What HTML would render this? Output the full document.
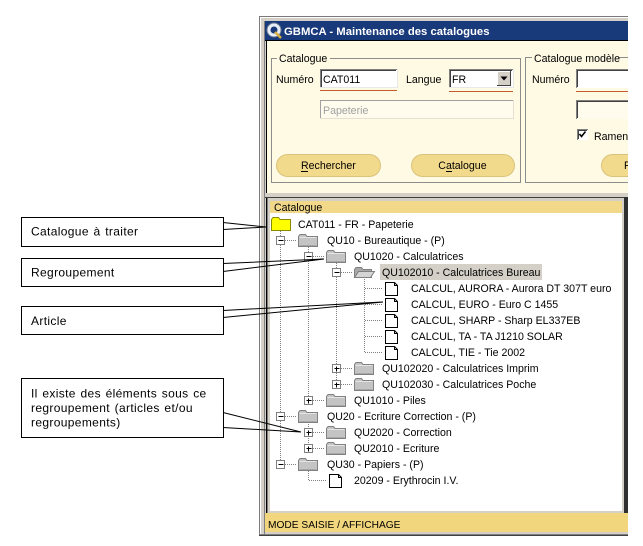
<!DOCTYPE html>
<html><head><meta charset="utf-8">
<style>
html,body{margin:0;padding:0;background:#fff;}
svg{display:block;}
text{font-family:"Liberation Sans",Arial,sans-serif;}
</style></head><body>
<svg width="643" height="546" viewBox="0 0 643 546" xmlns="http://www.w3.org/2000/svg">
<defs>
<clipPath id="win"><rect x="259" y="16" width="369" height="520"/></clipPath>
<g id="fc">
 <path d="M0.5,2.5 V12.5 H19.5 V2.5 H9 L7.5,0.5 H2 Z" fill="#c4c4c4" stroke="#808080"/>
 <path d="M1.5,3.5 H18.5" stroke="#e6e6e6"/>
 <path d="M1.5,11.5 H18.5" stroke="#a8a8a8"/>
</g>
<g id="fo">
 <path d="M0.5,3.5 V11.5 H17.5 V3.5 H9 L7.5,1.5 H2 Z" fill="#a8a8a8" stroke="#808080"/>
 <path d="M0.5,11.5 L4.5,5.5 H20.5 L16.5,11.5 Z" fill="#d4d4d4" stroke="#808080"/>
</g>
<g id="doc">
 <path d="M0.5,0.5 H9.5 L12.5,3.5 V13.5 H0.5 Z" fill="#fff" stroke="#000"/>
 <path d="M9.5,0.5 V3.5 H12.5" fill="none" stroke="#000"/>
</g>
<g id="minus">
 <rect x="-3.5" y="-3.5" width="8" height="8" fill="#fff" stroke="#808080"/>
 <path d="M-1.5,0.5 H3.5" stroke="#000"/>
</g>
<g id="plus">
 <rect x="-3.5" y="-3.5" width="8" height="8" fill="#fff" stroke="#808080"/>
 <path d="M-1.5,0.5 H3.5 M0.5,-1.5 V3.5" stroke="#000"/>
</g>
</defs>
<rect width="643" height="546" fill="#fff"/>

<g clip-path="url(#win)">
 <!-- window frame -->
 <rect x="259" y="16" width="369" height="520" fill="#d4d0c8"/>
 <path d="M259.5,536 V16.5 H628" fill="none" stroke="#7a7a7a"/>
 <path d="M260.5,535 V17.5 H628" fill="none" stroke="#ffffff"/>
 <path d="M264.5,535 V21" fill="none" stroke="#808080"/>
 <path d="M259,535.5 H628" stroke="#404040"/>
 <path d="M260,534.5 H628" stroke="#808080"/>

 <!-- title bar -->
 <rect x="265" y="21" width="363" height="19" fill="#18397a"/>
 <circle cx="274" cy="30" r="7" fill="#e8eef8" stroke="#6a7a90"/>
 <circle cx="274" cy="30" r="3.5" fill="#18397a"/>
 <path d="M275,32 L281,38" stroke="#d8b040" stroke-width="2.5"/>
 <text x="284" y="35" font-size="11.3" font-weight="bold" fill="#fff">GBMCA - Maintenance des catalogues</text>
 <rect x="265" y="40" width="363" height="1" fill="#000"/>

 <!-- cream panel -->
 <rect x="266" y="41" width="362" height="152" fill="#fffae4"/>
 <rect x="266" y="41" width="1" height="152" fill="#000"/>

 <!-- group box 1 -->
 <rect x="271.5" y="58.5" width="249" height="124" fill="none" stroke="#8c8c8c"/>
 <rect x="277" y="52" width="53" height="12" fill="#fffae4"/>
 <text x="279" y="62" font-size="10.6" fill="#000">Catalogue</text>
 <text x="276" y="83" font-size="10.6" fill="#000">Numéro</text>
 <rect x="320" y="69" width="77" height="19" fill="#fff"/>
 <path d="M320.5,88 V69.5 H397" fill="none" stroke="#808080"/>
 <path d="M321.5,87 V70.5 H396" fill="none" stroke="#404040"/>
 <path d="M320,87.5 H397.5 V69" fill="none" stroke="#e8e8e8"/>
 <text x="323" y="83" font-size="10.6" fill="#000">CAT011</text>
 <path d="M320,90.5 H397" stroke="#c85a30"/>

 <text x="406" y="83" font-size="10.6" fill="#000">Langue</text>
 <rect x="449" y="69" width="64" height="19" fill="#fff"/>
 <path d="M449.5,88 V69.5 H513" fill="none" stroke="#808080"/>
 <path d="M450.5,87 V70.5 H512" fill="none" stroke="#404040"/>
 <path d="M449,87.5 H513.5 V69" fill="none" stroke="#e8e8e8"/>
 <text x="452" y="83" font-size="10.6" fill="#000">FR</text>
 <rect x="497" y="71" width="14" height="15" fill="#d4d0c8"/>
 <path d="M497.5,86 V71.5 H511" fill="none" stroke="#fff"/>
 <path d="M497,85.5 H510.5 V71" fill="none" stroke="#404040"/>
 <path d="M500.5,76.5 H507.5 L504,80.5 Z" fill="#000"/>
 <path d="M449,91.5 H513" stroke="#c85a30"/>

 <rect x="320" y="100" width="194" height="19" fill="#fffcee"/>
 <path d="M320.5,119 V100.5 H514" fill="none" stroke="#a0a0a0"/>
 <path d="M320,118.5 H513.5 V100" fill="none" stroke="#e4e0d4"/>
 <text x="323" y="114" font-size="10.6" fill="#a0a0a0">Papeterie</text>

 <rect x="276.5" y="154.5" width="104" height="22" rx="11" fill="#f2da8c" stroke="#d9c37c"/>
 <text x="301" y="169" font-size="10.6" fill="#000">Rechercher</text>
 <path d="M301,171.5 H308" stroke="#000"/>
 <rect x="411.5" y="154.5" width="103" height="22" rx="11" fill="#f2da8c" stroke="#d9c37c"/>
 <text x="438.3" y="169" font-size="10.6" fill="#000">Catalogue</text>
 <path d="M446,171.5 H452" stroke="#000"/>

 <!-- group box 2 -->
 <rect x="525.5" y="57.5" width="200" height="125" fill="none" stroke="#8c8c8c"/>
 <rect x="532" y="52" width="86" height="12" fill="#fffae4"/>
 <text x="534" y="62" font-size="10.6" fill="#000">Catalogue modèle</text>
 <text x="532" y="83" font-size="10.6" fill="#000">Numéro</text>
 <rect x="576" y="69" width="60" height="19" fill="#fff"/>
 <path d="M576.5,88 V69.5 H640" fill="none" stroke="#808080"/>
 <path d="M577.5,87 V70.5 H640" fill="none" stroke="#404040"/>
 <path d="M576,91.5 H640" stroke="#c85a30"/>
 <rect x="576" y="100" width="60" height="19" fill="#fffcee"/>
 <path d="M576.5,119 V100.5 H640" fill="none" stroke="#808080"/>
 <path d="M577.5,118 V101.5 H640" fill="none" stroke="#404040"/>
 <rect x="577" y="129" width="11" height="11" fill="#fff"/>
 <path d="M577.5,140 V129.5 H588" fill="none" stroke="#808080"/>
 <path d="M578.5,139 V130.5 H587" fill="none" stroke="#404040"/>
 <path d="M579.5,134 L581.5,136.5 L585.5,131.5" fill="none" stroke="#000" stroke-width="1.6"/>
 <text x="594" y="140" font-size="10.6" fill="#000">Ramener</text>
 <rect x="601.5" y="154.5" width="104" height="22" rx="11" fill="#f2da8c" stroke="#d9c37c"/>
 <text x="624" y="169" font-size="10.6" fill="#000">Rechercher</text>

 <!-- tree panel -->
 <rect x="265" y="197" width="363" height="1" fill="#404040"/>
 <rect x="266" y="198" width="1" height="315" fill="#000"/>
 <rect x="267" y="198" width="1" height="315" fill="#808080"/>
 <rect x="624" y="197" width="4" height="316" fill="#303030"/>
 <rect x="270" y="201" width="352" height="310" fill="#fff"/>
 <rect x="270" y="201" width="352" height="12" fill="#f2d98a"/>
 <text x="274" y="211" font-size="10.6" fill="#000">Catalogue</text>

 <!-- status bar -->
 <rect x="265" y="513" width="363" height="19" fill="#f2d67e"/>
 <text x="268" y="528" font-size="10.2" fill="#000">MODE SAISIE / AFFICHAGE</text>

 <!-- tree dotted lines -->
 <g stroke="#808080" stroke-dasharray="1,1" fill="none">
  <path d="M280.5,231 V460"/>
  <path d="M308.5,245 V400 M308.5,420 V448 M308.5,469 V480.5"/>
  <path d="M336.5,261 V384"/>
  <path d="M364.5,277 V352"/>
  <path d="M285,240.5 H297 M285,416.5 H297 M285,464.5 H297"/>
  <path d="M313,256.5 H325 M313,400.5 H325 M313,432.5 H325 M313,448.5 H325"/>
  <path d="M341,272.5 H353 M341,368.5 H353 M341,384.5 H353"/>
  <path d="M365,288.5 H382 M365,304.5 H382 M365,320.5 H382 M365,336.5 H382 M365,352.5 H382"/>
  <path d="M309,480.5 H326"/>
 </g>

 <!-- highlight -->
 <rect x="380" y="264" width="162" height="16" fill="#d4d0c8"/>

 <!-- boxes -->
 <use href="#minus" x="280" y="240"/>
 <use href="#minus" x="308" y="256"/>
 <use href="#minus" x="336" y="272"/>
 <use href="#plus" x="336" y="368"/>
 <use href="#plus" x="336" y="384"/>
 <use href="#plus" x="308" y="400"/>
 <use href="#minus" x="280" y="416"/>
 <use href="#plus" x="308" y="432"/>
 <use href="#plus" x="308" y="448"/>
 <use href="#minus" x="280" y="464"/>

 <!-- icons -->
 <path d="M271.5,219.5 V230.5 H290.5 V219.5 H280 L278.5,217.5 H273 Z" fill="#ffff00" stroke="#8a8a00"/>
 <use href="#fc" x="298" y="234"/>
 <use href="#fc" x="326" y="250"/>
 <use href="#fo" x="354" y="266"/>
 <use href="#doc" x="385" y="282"/>
 <use href="#doc" x="385" y="298"/>
 <use href="#doc" x="385" y="314"/>
 <use href="#doc" x="385" y="330"/>
 <use href="#doc" x="385" y="346"/>
 <use href="#fc" x="354" y="362"/>
 <use href="#fc" x="354" y="378"/>
 <use href="#fc" x="326" y="394"/>
 <use href="#fc" x="298" y="410"/>
 <use href="#fc" x="326" y="426"/>
 <use href="#fc" x="326" y="442"/>
 <use href="#fc" x="298" y="458"/>
 <use href="#doc" x="329" y="474"/>

 <!-- tree text -->
 <g font-size="10.6" fill="#000">
  <text x="298" y="228">CAT011 - FR - Papeterie</text>
  <text x="327" y="244">QU10 - Bureautique - (P)</text>
  <text x="354" y="260">QU1020 - Calculatrices</text>
  <text x="382" y="276">QU102010 - Calculatrices Bureau</text>
  <text x="411" y="292">CALCUL, AURORA - Aurora DT 307T euro</text>
  <text x="411" y="308">CALCUL, EURO - Euro C 1455</text>
  <text x="411" y="324">CALCUL, SHARP - Sharp EL337EB</text>
  <text x="411" y="340">CALCUL, TA - TA J1210 SOLAR</text>
  <text x="411" y="356">CALCUL, TIE - Tie 2002</text>
  <text x="382" y="372">QU102020 - Calculatrices Imprim</text>
  <text x="382" y="388">QU102030 - Calculatrices Poche</text>
  <text x="354" y="404">QU1010 - Piles</text>
  <text x="327" y="420">QU20 - Ecriture Correction - (P)</text>
  <text x="354" y="436">QU2020 - Correction</text>
  <text x="354" y="452">QU2010 - Ecriture</text>
  <text x="327" y="468">QU30 - Papiers - (P)</text>
  <text x="354" y="484">20209 - Erythrocin I.V.</text>
 </g>
</g>

<!-- callouts -->
<g fill="#fff" stroke="#000">
 <rect x="21.5" y="217.5" width="202" height="29"/>
 <rect x="21.5" y="258.5" width="202" height="28"/>
 <rect x="21.5" y="306.5" width="202" height="28"/>
 <rect x="21.5" y="378.5" width="202" height="59"/>
</g>
<g fill="none" stroke="#000">
 <path d="M223,222.5 L266,227 L223,229.5"/>
 <path d="M223,263.5 L324,259 L223,271.5"/>
 <path d="M223,310.5 L383,302 L223,317.5"/>
 <path d="M223,412.5 L301,432 L223,427.5"/>
</g>
<g font-size="12" fill="#000" style="letter-spacing:0.35px;word-spacing:1px">
 <text x="31" y="235.5">Catalogue à traiter</text>
 <text x="31" y="276.5">Regroupement</text>
 <text x="31" y="325">Article</text>
 <text x="31" y="397.5">Il existe des éléments sous ce</text>
 <text x="31" y="412">regroupement (articles et/ou</text>
 <text x="31" y="426.5">regroupements)</text>
</g>
</svg>
</body></html>
